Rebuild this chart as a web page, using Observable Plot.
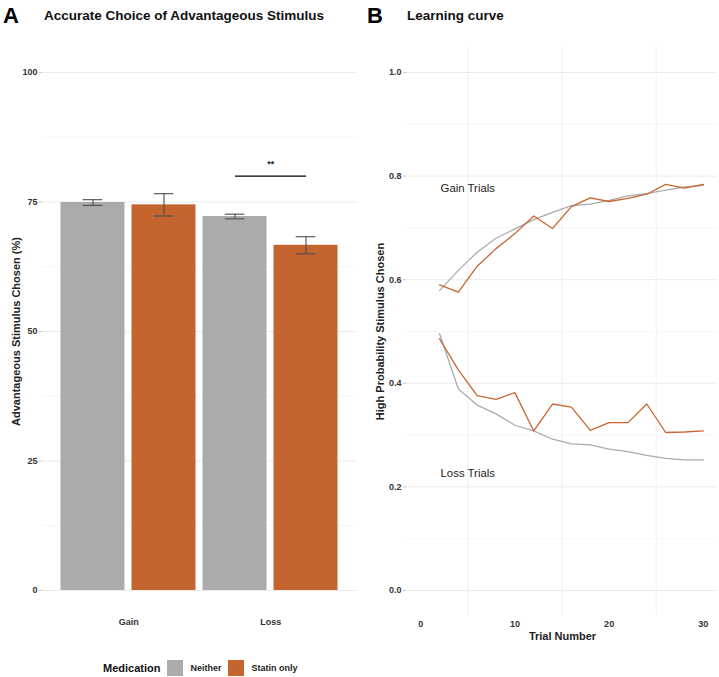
<!DOCTYPE html>
<html>
<head>
<meta charset="utf-8">
<script src="https://cdn.jsdelivr.net/npm/d3@7"></script>
<script src="https://cdn.jsdelivr.net/npm/@observablehq/plot@0.6"></script>
<style>
  body { margin: 0; background: #fff; }
  #wrap { position: relative; width: 719px; height: 677px; font-family: "Liberation Sans", Arial, sans-serif; color: #1a1a1a; overflow: hidden; }
  .abs { position: absolute; white-space: nowrap; }
  .panel { position: absolute; top: 0; }
  .tag { font-size: 22px; font-weight: bold; line-height: 22px; color: #000; }
  .title { font-size: 13.5px; font-weight: bold; line-height: 13.5px; color: #111; }
  .axt { font-size: 11px; font-weight: bold; line-height: 11px; color: #222; text-align: center; }
  #legend { position: absolute; left: 103px; top: 660px; height: 16px; display: flex; align-items: center; }
  #legend .lt { font-size: 11px; font-weight: bold; margin-right: 7px; color: #111; }
  #legend .sw { width: 16px; height: 16px; margin-right: 7px; }
  #legend .li { font-size: 9px; font-weight: bold; margin-right: 7px; color: #222; }
</style>
</head>
<body>
<div id="wrap">
  <div id="pa" class="panel" style="left:0px"></div>
  <div id="pb" class="panel" style="left:360px"></div>
  <div class="abs tag" style="left:3px; top:5.4px">A</div>
  <div class="abs title" style="left:44px; top:8.6px">Accurate Choice of Advantageous Stimulus</div>
  <div class="abs tag" style="left:367px; top:5.4px">B</div>
  <div class="abs title" style="left:407px; top:8.6px">Learning curve</div>
  <div class="abs axt" style="left:-134px; top:325.5px; width:300px; transform: rotate(-90deg);">Advantageous Stimulus Chosen (%)</div>
  <div class="abs axt" style="left:230.2px; top:325.5px; width:300px; transform: rotate(-90deg);">High Probability Stimulus Chosen</div>
  <div class="abs axt" style="left:412.5px; top:630.7px; width:300px;">Trial Number</div>
  <div id="legend"></div>
</div>
<script>
// ---------- data ----------
const conditions = ["Gain", "Loss"];
const medications = ["Neither", "Statin only"];
const accuracyNeither = [74.9, 72.2];
const errorNeither = [0.55, 0.45];
const accuracyStatin = [74.45, 66.65];
const errorStatin = [2.15, 1.65];
const significance = {condition: "Loss", label: "**", y: 80, labelY: 82.4};
const yTicksA = [0, 25, 50, 75, 100];
const yMinorA = [12.5, 37.5, 62.5, 87.5];

const trials = [2, 4, 6, 8, 10, 12, 14, 16, 18, 20, 22, 24, 26, 28, 30];
const gainNeither = [0.579, 0.618, 0.653, 0.680, 0.698, 0.716, 0.730, 0.743, 0.746, 0.753, 0.762, 0.766, 0.773, 0.779, 0.782];
const gainStatin  = [0.590, 0.576, 0.626, 0.660, 0.689, 0.723, 0.699, 0.741, 0.758, 0.751, 0.757, 0.765, 0.784, 0.777, 0.784];
const lossNeither = [0.496, 0.389, 0.358, 0.341, 0.319, 0.308, 0.292, 0.283, 0.281, 0.273, 0.268, 0.261, 0.255, 0.252, 0.252];
const lossStatin  = [0.486, 0.426, 0.376, 0.369, 0.382, 0.308, 0.360, 0.354, 0.309, 0.324, 0.324, 0.360, 0.305, 0.306, 0.308];
const annotations = [{trial: 5, value: 0.776, text: "Gain Trials"}, {trial: 5, value: 0.226, text: "Loss Trials"}];
const xTicksB = [0, 10, 20, 30];
const xGridB = [5, 15, 25];
const yTicksB = [0, 0.2, 0.4, 0.6, 0.8, 1.0];
const yMinorB = [0.1, 0.3, 0.5, 0.7, 0.9];

const barColors = ["#ABABAB", "#C4652F"];
const lineColors = ["#ABABAB", "#C8662F"];

// ---------- panel A ----------
const key = (c, m) => c + "|" + m;
const keys = conditions.flatMap(c => medications.map(m => key(c, m)));
const bars = conditions.flatMap((c, i) => [
  {cond: c, med: medications[0], key: key(c, medications[0]), value: accuracyNeither[i], lo: accuracyNeither[i] - errorNeither[i], hi: accuracyNeither[i] + errorNeither[i]},
  {cond: c, med: medications[1], key: key(c, medications[1]), value: accuracyStatin[i], lo: accuracyStatin[i] - errorStatin[i], hi: accuracyStatin[i] + errorStatin[i]}
]);

const WA = 360, mlA = 42, mrA = 4, padOuter = 0.2;
const stepA = (WA - mlA - mrA) / (keys.length + 2 * padOuter);
const half = stepA / 2;
const capInset = (stepA - 20) / 2;

const common = {
  height: 640, marginTop: 47, marginBottom: 25,
  style: {fontFamily: "'Liberation Sans', Arial, sans-serif", fontSize: "9px", fontWeight: "bold", color: "#333", background: "transparent", overflow: "visible"}
};

const plotA = Plot.plot({
  ...common,
  width: WA, marginLeft: mlA, marginRight: mrA,
  x: {type: "band", domain: keys, paddingInner: 0, paddingOuter: padOuter, axis: null},
  y: {domain: [-4.83, 104.83], axis: null},
  color: {domain: medications, range: barColors},
  marks: [
    Plot.ruleY(yMinorA, {stroke: "#f0f0f0", strokeWidth: 0.6}),
    Plot.ruleY(yTicksA, {stroke: "#ebebeb", strokeWidth: 1}),
    Plot.axisY(yTicksA, {tickSize: 3, tickPadding: 2, stroke: "#c8c8c8", fill: "#333", label: null, fontWeight: "bold"}),
    Plot.barY(bars, {x: "key", y: "value", fill: "med", insetLeft: 3.5, insetRight: 3.5}),
    Plot.ruleX(bars, {x: "key", y1: "lo", y2: "hi", stroke: "#4d4d4d", strokeWidth: 1.1}),
    Plot.tickY(bars, {x: "key", y: "lo", stroke: "#4d4d4d", strokeWidth: 1.1, insetLeft: capInset, insetRight: capInset}),
    Plot.tickY(bars, {x: "key", y: "hi", stroke: "#4d4d4d", strokeWidth: 1.1, insetLeft: capInset, insetRight: capInset}),
    Plot.link([significance], {x1: d => key(d.condition, medications[0]), x2: d => key(d.condition, medications[1]), y1: "y", y2: "y", stroke: "#000", strokeWidth: 1.2}),
    Plot.text([significance], {x: d => key(d.condition, medications[0]), dx: half, y: "labelY", text: "label", fontSize: 9, fill: "#222"}),
    Plot.text(conditions, {x: c => key(c, medications[0]), dx: half, frameAnchor: "bottom", dy: 9, text: d => d, fontSize: 9, fill: "#333"})
  ]
});
document.getElementById("pa").appendChild(plotA);

// ---------- panel B ----------
const series = [
  {name: "Gain Neither", med: medications[0], values: gainNeither},
  {name: "Gain Statin", med: medications[1], values: gainStatin},
  {name: "Loss Neither", med: medications[0], values: lossNeither},
  {name: "Loss Statin", med: medications[1], values: lossStatin}
];
const lineData = series.flatMap(s => trials.map((t, i) => ({series: s.name, med: s.med, trial: t, value: s.values[i]})));

const plotB = Plot.plot({
  ...common,
  width: 359, marginLeft: 46, marginRight: 2,
  x: {domain: [-1.5, 31.5], axis: null},
  y: {domain: [-0.0483, 1.0483], axis: null},
  color: {domain: medications, range: lineColors},
  marks: [
    Plot.ruleY(yMinorB, {stroke: "#f0f0f0", strokeWidth: 0.6}),
    Plot.ruleX(xGridB, {stroke: "#ebebeb", strokeWidth: 0.8}),
    Plot.ruleY(yTicksB, {stroke: "#ebebeb", strokeWidth: 1}),
    Plot.axisY(yTicksB, {tickSize: 3, tickPadding: 2, tickFormat: ".1f", stroke: "#c8c8c8", fill: "#333", label: null}),
    Plot.axisX(xTicksB, {tickSize: 0, tickPadding: 5, fill: "#333", label: null}),
    Plot.line(lineData, {x: "trial", y: "value", z: "series", stroke: "med", strokeWidth: 1.3}),
    Plot.text(annotations, {x: "trial", y: "value", text: "text", fontSize: 11.4, fontWeight: "normal", fill: "#1a1a1a"})
  ]
});
document.getElementById("pb").appendChild(plotB);

// ---------- legend ----------
const legend = document.getElementById("legend");
legend.innerHTML = `<span class="lt">Medication</span>` +
  medications.map((m, i) => `<span class="sw" style="background:${barColors[i]}"></span><span class="li">${m}</span>`).join("");
</script>
</body>
</html>
